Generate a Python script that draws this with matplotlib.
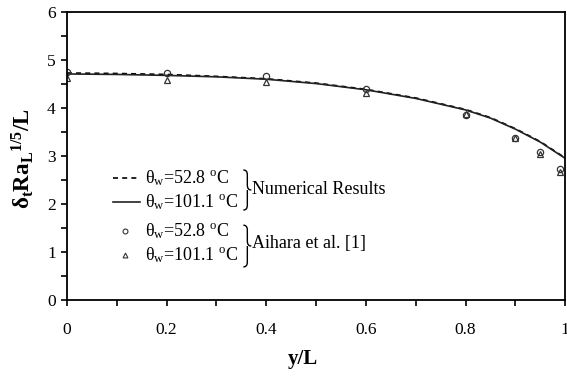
import matplotlib
matplotlib.use("Agg")
import matplotlib.pyplot as plt
from matplotlib.path import Path
import matplotlib.patches as mpatches
import numpy as np

plt.rcParams.update({
    'font.family': 'Liberation Serif',
    'mathtext.fontset': 'custom',
    'mathtext.rm': 'Liberation Serif',
    'mathtext.it': 'Liberation Serif:italic',
    'mathtext.bf': 'Liberation Serif:bold',
    'font.size': 12,
})

# numerical results (y/L vs delta_t Ra^(1/5)/L)
y_num = [0, 0.1, 0.2, 0.3, 0.4, 0.5, 0.6, 0.7, 0.8, 0.85, 0.9, 0.95, 1.0]
num_528 = [4.73, 4.72, 4.70, 4.66, 4.61, 4.52, 4.39, 4.21, 3.97, 3.80, 3.57, 3.30, 2.96]
num_1011 = [4.71, 4.70, 4.68, 4.65, 4.60, 4.51, 4.38, 4.20, 3.96, 3.79, 3.56, 3.29, 2.95]

# Aihara et al. [1]
y_exp = [0, 0.2, 0.4, 0.6, 0.8, 0.9, 0.95, 0.99]
exp_528 = [4.75, 4.74, 4.67, 4.39, 3.85, 3.38, 3.09, 2.74]
exp_1011 = [4.63, 4.58, 4.55, 4.32, 3.87, 3.38, 3.04, 2.67]

fig = plt.figure(figsize=(5.67, 3.76), dpi=100)
ax = fig.add_axes([0.118, 0.202, 0.879, 0.766])

ax.plot(y_num, num_528, color="black", lw=1.2, ls=(0, (3, 2.5)))
ax.plot(y_num, num_1011, color="#222222", lw=1.2)
ax.plot(y_exp, exp_528, ls="none", marker="o", ms=4.5, mfc="none", mec="#333", mew=0.9)
ax.plot(y_exp, exp_1011, ls="none", marker="^", ms=4.5, mfc="none", mec="#333", mew=0.9)

ax.set_xlim(0, 1)
ax.set_ylim(0, 6)
ax.set_xticks(np.arange(0, 1.01, 0.2))
ax.set_xticklabels(["0", "0.2", "0.4", "0.6", "0.8", "1"])
ax.set_xticks(np.arange(0, 1.01, 0.1), minor=True)
ax.set_yticks(range(0, 7))
ax.set_yticks(np.arange(0, 6.01, 0.5), minor=True)
ax.tick_params(which="both", direction="out", top=False, right=False,
               width=1.2, labelsize=12.5, length=4)
ax.tick_params(axis="x", pad=12)
ax.tick_params(axis="y", pad=4)
for s in ax.spines.values():
    s.set_linewidth(1.3)

ax.set_xlabel("y/L", fontsize=15, fontweight="bold")
ax.xaxis.set_label_coords(0.474, -0.17)
ax.set_ylabel(r"$\mathbf{δ_t Ra_L{}^{1/5}/L}$", fontsize=16.5)
ax.yaxis.set_label_coords(-0.062, 0.49)

# hand-made legend with braces
lab_528 = r"θ$_{\rm w}$=52.8 $^{\rm o}$C"
lab_1011 = r"θ$_{\rm w}$=101.1 $^{\rm o}$C"
ax.plot([0.092, 0.146], [2.54, 2.54], color="black", lw=1.2, ls=(0, (3, 2.5)))
ax.plot([0.092, 0.146], [2.04, 2.04], color="#222222", lw=1.2)
ax.plot([0.116], [1.44], marker="o", ms=3.5, mfc="none", mec="#333", mew=0.8)
ax.plot([0.116], [0.94], marker="^", ms=3.5, mfc="none", mec="#333", mew=0.8)
for yy, lab in zip([2.54, 2.04, 1.44, 0.94], [lab_528, lab_1011, lab_528, lab_1011]):
    ax.text(0.156, yy, lab, fontsize=13, va="center", ha="left")


def brace(x0, x1, ytop, ybot):
    ym = (ytop + ybot) / 2
    xm = (x0 + x1) / 2
    verts = [(x0, ytop), (xm, ytop), (xm, ytop - 0.1), (xm, ym + 0.1),
             (xm, ym + 0.1), (xm, ym), (x1, ym),
             (xm, ym), (xm, ym - 0.1), (xm, ym - 0.1),
             (xm, ybot + 0.1), (xm, ybot), (x0, ybot)]
    codes = [Path.MOVETO, Path.CURVE3, Path.CURVE3, Path.LINETO,
             Path.MOVETO, Path.CURVE3, Path.CURVE3,
             Path.MOVETO, Path.CURVE3, Path.CURVE3,
             Path.LINETO, Path.CURVE3, Path.CURVE3]
    ax.add_patch(mpatches.PathPatch(Path(verts, codes), fill=False, lw=1.0, color="black"))


brace(0.354, 0.370, 2.71, 1.875)
brace(0.354, 0.370, 1.56, 0.69)
ax.text(0.372, 2.31, "Numerical Results", fontsize=13, va="center", ha="left")
ax.text(0.372, 1.17, "Aihara et al. [1]", fontsize=13, va="center", ha="left")

fig.savefig("out.png", dpi=100)
